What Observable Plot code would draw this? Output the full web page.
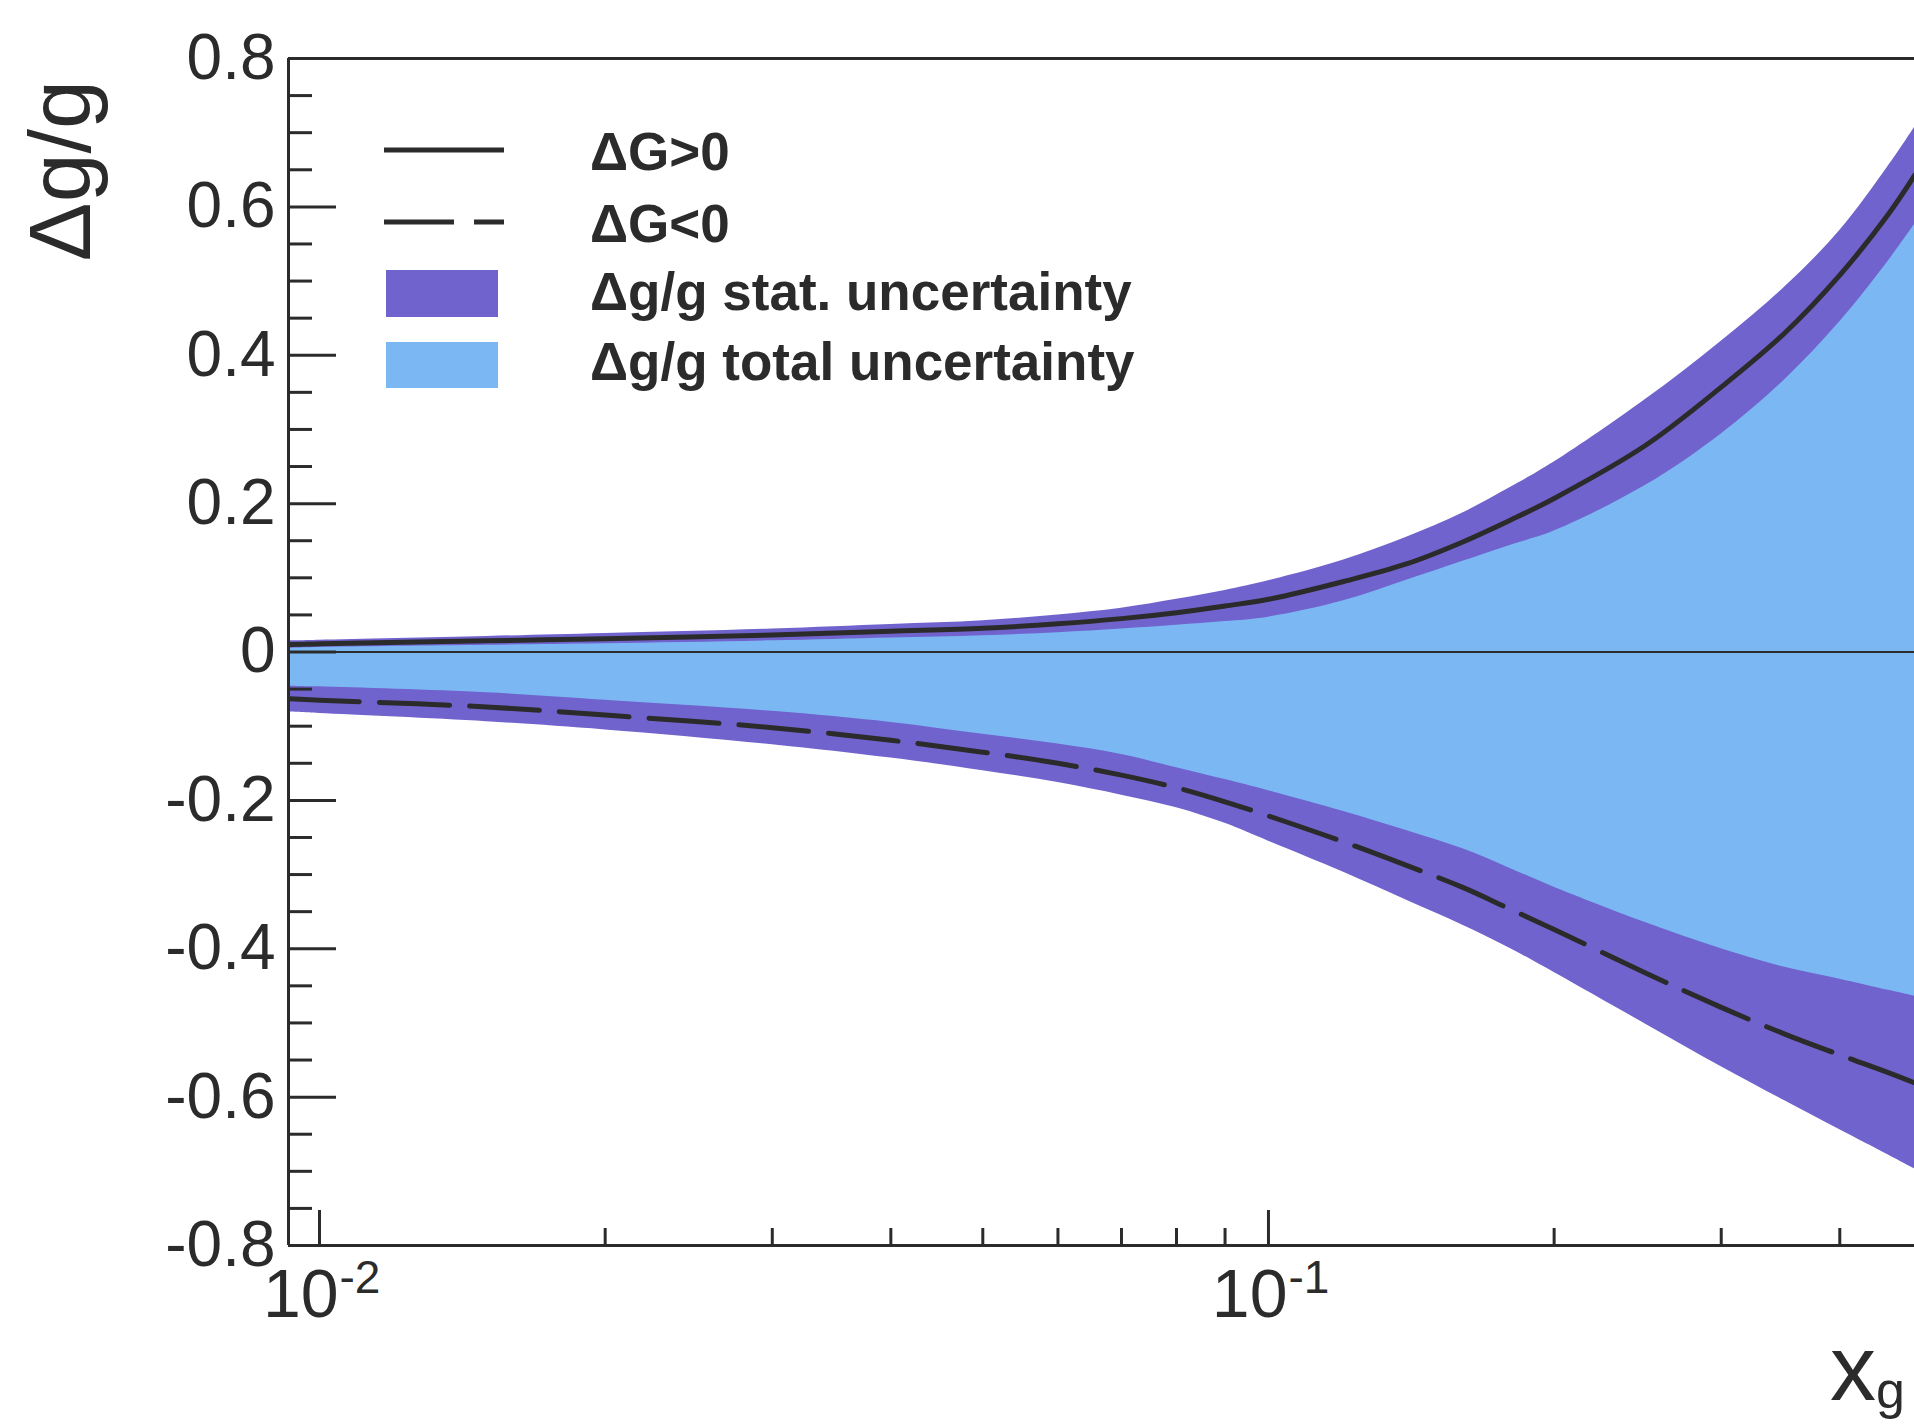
<!DOCTYPE html>
<html>
<head>
<meta charset="utf-8">
<script src="https://cdn.jsdelivr.net/npm/d3@7"></script>
<script src="https://cdn.jsdelivr.net/npm/@observablehq/plot@0.6"></script>
<style>
  html, body { margin: 0; padding: 0; background: #fff; }
  svg { display: block; }
</style>
</head>
<body>
<div id="chart"></div>
<script>
// ---- data ----
const xg          = [0.0093, 0.01, 0.015, 0.02, 0.03, 0.04, 0.05, 0.06, 0.07, 0.08, 0.09, 0.1, 0.12, 0.14, 0.16, 0.18, 0.2, 0.25, 0.3, 0.35, 0.4, 0.45, 0.48];
// ΔG>0 curve and its stat. band edges
const dgPos       = [0.010, 0.011, 0.015, 0.018, 0.023, 0.028, 0.032, 0.038, 0.045, 0.053, 0.062, 0.071, 0.095, 0.119, 0.148, 0.178, 0.207, 0.279, 0.357, 0.430, 0.508, 0.590, 0.643];
const dgPosLo     = [0.005, 0.006, 0.009, 0.011, 0.015, 0.019, 0.022, 0.026, 0.031, 0.036, 0.041, 0.047, 0.069, 0.097, 0.122, 0.144, 0.163, 0.225, 0.294, 0.367, 0.445, 0.527, 0.577];
const dgPosHi     = [0.015, 0.016, 0.021, 0.025, 0.031, 0.037, 0.042, 0.050, 0.059, 0.071, 0.083, 0.096, 0.124, 0.155, 0.187, 0.222, 0.256, 0.341, 0.419, 0.492, 0.568, 0.655, 0.708];
// ΔG<0 curve and its stat. band edges
const dgNeg       = [-0.063, -0.065, -0.074, -0.085, -0.102, -0.119, -0.135, -0.150, -0.166, -0.183, -0.202, -0.221, -0.256, -0.288, -0.317, -0.347, -0.374, -0.433, -0.479, -0.515, -0.543, -0.567, -0.581];
const dgNegLo     = [-0.081, -0.083, -0.094, -0.105, -0.125, -0.143, -0.160, -0.176, -0.193, -0.210, -0.231, -0.255, -0.297, -0.335, -0.368, -0.400, -0.432, -0.502, -0.559, -0.605, -0.644, -0.678, -0.697];
const dgNegHi     = [-0.046, -0.047, -0.055, -0.065, -0.080, -0.095, -0.111, -0.124, -0.138, -0.156, -0.172, -0.187, -0.215, -0.241, -0.265, -0.292, -0.317, -0.365, -0.400, -0.425, -0.441, -0.456, -0.464];

const yTicks      = [-0.8, -0.6, -0.4, -0.2, 0, 0.2, 0.4, 0.6, 0.8];
const yTickLabels = ["-0.8", "-0.6", "-0.4", "-0.2", "0", "0.2", "0.4", "0.6", "0.8"];
const yMinor      = [-0.75, -0.7, -0.65, -0.55, -0.5, -0.45, -0.35, -0.3, -0.25, -0.15, -0.1, -0.05, 0.05, 0.1, 0.15, 0.25, 0.3, 0.35, 0.45, 0.5, 0.55, 0.65, 0.7, 0.75];
const xMajor      = [0.01, 0.1];
const xMajorBase  = ["10", "10"];
const xMajorExp   = ["-2", "-1"];
const xMinor      = [0.02, 0.03, 0.04, 0.05, 0.06, 0.07, 0.08, 0.09, 0.2, 0.3, 0.4];

const legendLabels = ["\u0394G>0", "\u0394G<0", "\u0394g/g stat. uncertainty", "\u0394g/g total uncertainty"];
const yTitle = "\u0394g/g";

// ---- styling ----
const FONT = "'Liberation Sans', Arial, Helvetica, sans-serif";
const INK = "#2b2b2b";
const LIGHT = "#7bb8f3";
const DARK = "#7163cd";
const W = 1914, H = 1424, mL = 288, mT = 58, mB = 179, mR = 0;
const plotW = W - mL - mR, plotH = H - mT - mB;
const xDomain = [0.009275, 0.4795];
const CURVE = "catmull-rom";

const rows = xg.map((x, i) => ({
  x,
  pos: dgPos[i], posLo: dgPosLo[i], posHi: dgPosHi[i],
  neg: dgNeg[i], negLo: dgNegLo[i], negHi: dgNegHi[i]
}));

const chart = Plot.plot({
  width: W, height: H,
  marginLeft: mL, marginRight: mR, marginTop: mT, marginBottom: mB,
  x: {type: "log", domain: xDomain, axis: null},
  y: {domain: [-0.8, 0.8], axis: null},
  style: {background: "#fff", fontFamily: FONT},
  marks: [
    Plot.areaY(rows, {x: "x", y1: "neg", y2: "pos", fill: LIGHT, curve: CURVE, clip: true}),
    Plot.areaY(rows, {x: "x", y1: "posLo", y2: "posHi", fill: DARK, curve: CURVE, clip: true}),
    Plot.areaY(rows, {x: "x", y1: "negLo", y2: "negHi", fill: DARK, curve: CURVE, clip: true}),
    Plot.ruleY([0], {stroke: INK, strokeWidth: 2}),
    Plot.line(rows, {x: "x", y: "pos", stroke: INK, strokeWidth: 5, curve: CURVE, clip: true}),
    Plot.line(rows, {x: "x", y: "neg", stroke: INK, strokeWidth: 5, strokeDasharray: "70,20", curve: CURVE, clip: true}),
    // frame lines
    Plot.ruleY([0.8], {stroke: INK, strokeWidth: 3}),
    Plot.ruleY([-0.8], {stroke: INK, strokeWidth: 3}),
    Plot.ruleX([xDomain[0]], {stroke: INK, strokeWidth: 3}),
    // inward ticks
    Plot.tickY(yTicks, {y: d => d, insetRight: plotW - 48, stroke: INK, strokeWidth: 3}),
    Plot.tickY(yMinor, {y: d => d, insetRight: plotW - 24, stroke: INK, strokeWidth: 3}),
    Plot.tickX(xMajor, {x: d => d, insetTop: plotH - 35, stroke: INK, strokeWidth: 3}),
    Plot.tickX(xMinor, {x: d => d, insetTop: plotH - 17, stroke: INK, strokeWidth: 3}),
    // tick labels
    Plot.text(yTicks, {y: d => d, text: (d, i) => yTickLabels[i], frameAnchor: "left", textAnchor: "end", dx: -13, fontSize: 64, fill: INK}),
    Plot.text(xMajor, {x: d => d, text: (d, i) => xMajorBase[i], frameAnchor: "bottom", textAnchor: "end", dx: 19, dy: 71, fontSize: 68, fill: INK}),
    Plot.text(xMajor, {x: d => d, text: (d, i) => xMajorExp[i], frameAnchor: "bottom", textAnchor: "start", dx: 20, dy: 47, fontSize: 46, fill: INK})
  ]
});

document.getElementById("chart").appendChild(chart);

// ---- legend, axis titles ----
const svg = d3.select(chart);
const g = svg.append("g").attr("font-family", FONT).attr("text-anchor", "start");

// solid line sample
g.append("line").attr("x1", 384).attr("x2", 504).attr("y1", 150).attr("y2", 150)
  .attr("stroke", INK).attr("stroke-width", 5);
// dashed sample
g.append("line").attr("x1", 384).attr("x2", 504).attr("y1", 222).attr("y2", 222)
  .attr("stroke", INK).attr("stroke-width", 5).attr("stroke-dasharray", "70,20");
// stat swatch
g.append("rect").attr("x", 386).attr("y", 270).attr("width", 112).attr("height", 47).attr("fill", DARK);
// total swatch
g.append("rect").attr("x", 386).attr("y", 342).attr("width", 112).attr("height", 46).attr("fill", LIGHT);

const baselines = [170, 242, 310, 380];
legendLabels.forEach((t, i) => {
  g.append("text").attr("x", 590).attr("y", baselines[i]).attr("text-anchor", "start")
    .attr("font-size", 53).attr("font-weight", "bold").attr("fill", INK).text(t);
});

// y title
g.append("text").attr("transform", "translate(90,80) rotate(-90)")
  .attr("text-anchor", "end").attr("font-size", 88).attr("fill", INK).text(yTitle);

// x title
const xt = g.append("text").attr("x", 1830).attr("y", 1400).attr("text-anchor", "start")
  .attr("font-size", 92).attr("fill", INK);
xt.append("tspan").text("x");
xt.append("tspan").attr("font-size", 52).attr("dy", 8).text("g");
</script>
</body>
</html>
